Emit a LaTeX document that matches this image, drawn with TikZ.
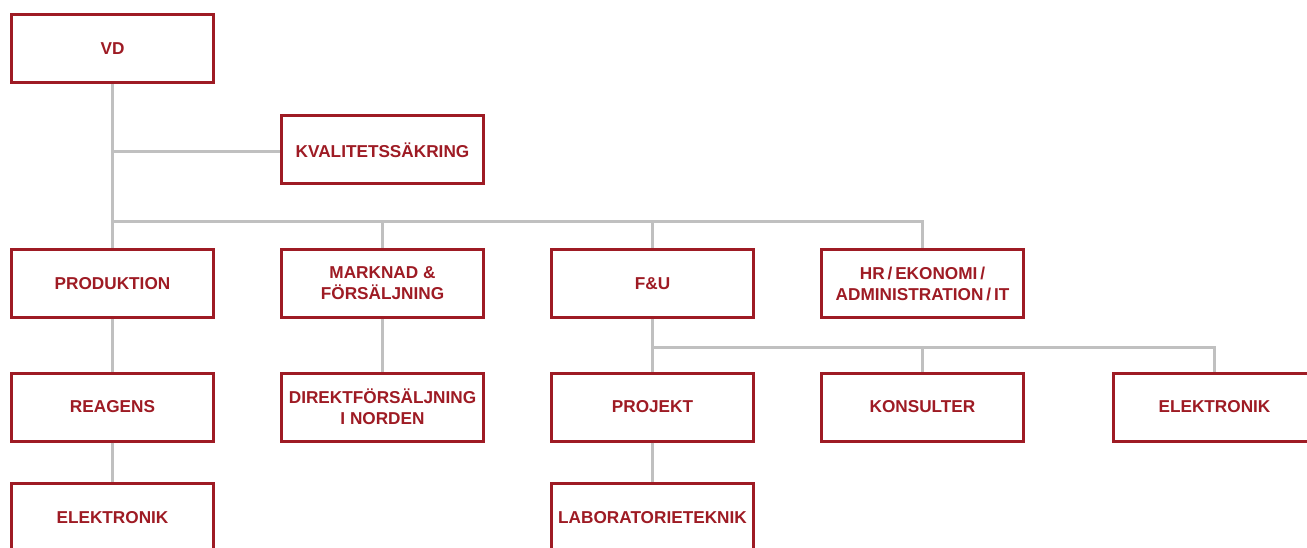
\documentclass[tikz,border=0pt]{standalone}
\usepackage{fontspec}
\setmainfont{Liberation Sans}
\usetikzlibrary{positioning}
\definecolor{orgred}{RGB}{158,27,36}
\definecolor{orggray}{RGB}{192,192,192}
\tikzset{
  unit/.style={draw=orgred, line width=3pt, fill=white, text=orgred,
    minimum width=202pt, minimum height=68pt, inner sep=0pt, align=center,
    font=\bfseries\fontsize{17.2}{21}\selectfont},
  link/.style={draw=orggray, line width=3pt}
}
\begin{document}
\begin{tikzpicture}[node distance=270pt]
  \useasboundingbox (0pt,0pt) rectangle (1307pt,-547pt);
  \node[unit](vd) at (112.5pt,-48.5pt){VD};
  \node[unit](kvalitet) at (382.5pt,-149.8pt){KVALITETSSÄKRING};
  \node[unit](produktion)[below of=vd, node distance=235pt]{PRODUKTION};
  \node[unit](marknad)[right of=produktion]{MARKNAD \&\\FÖRSÄLJNING};
  \node[unit](fou)[right of=marknad]{F\&U};
  \node[unit](hr)[right of=fou]{HR\,/\,EKONOMI\,/\\ADMINISTRATION\,/\,IT};
  \node[unit](reagens)[below of=produktion, node distance=123.5pt]{REAGENS};
  \node[unit](direkt)[below of=marknad, node distance=123.5pt]{DIREKTFÖRSÄLJNING\\I NORDEN};
  \node[unit](projekt)[below of=fou, node distance=123.5pt]{PROJEKT};
  \node[unit](konsulter)[below of=hr, node distance=123.5pt]{KONSULTER};
  \node[unit](elektronikfou)[right of=konsulter, node distance=292pt]{ELEKTRONIK};
  \node[unit](elektronik)[below of=reagens, node distance=110.5pt]{ELEKTRONIK};
  \node[unit](lab)[below of=projekt, node distance=110.5pt]{LABORATORIETEKNIK};
  \coordinate (bus) at (112.5pt,-221pt);
  \coordinate (foubus) at (652.5pt,-347pt);
  \coordinate (kvalink) at ([yshift=-2pt]kvalitet.west);
  % grey lines
  \draw[link] (vd) -- (produktion);
  \draw[link] (vd |- kvalink) -- (kvalink);
  \draw[link] (bus) -| (hr);
  \draw[link] (bus -| marknad) -- (marknad);
  \draw[link] (bus -| fou) -- (fou);
  \draw[link] (produktion) -- (reagens);
  \draw[link] (reagens) -- (elektronik);
  \draw[link] (marknad) -- (direkt);
  \draw[link] (fou) -- (projekt);
  \draw[link] (projekt) -- (lab);
  \draw[link] (foubus) -| (elektronikfou);
  \draw[link] (foubus -| konsulter) -- (konsulter);
\end{tikzpicture}
\end{document}
